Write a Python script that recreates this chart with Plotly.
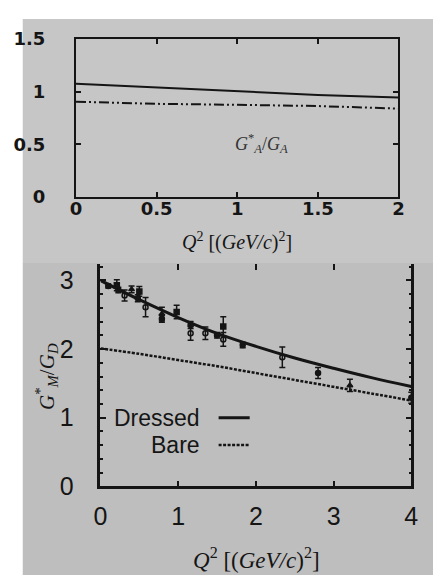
import plotly.graph_objects as go

W, H = 441, 581

# ---------------- data ----------------
# top panel: G_A*/G_A
top_q2 = [0.0, 0.5, 1.0, 1.5, 2.0]
top_solid = [1.076, 1.04, 1.0, 0.97, 0.945]
top_dashdot = [0.905, 0.885, 0.876, 0.864, 0.84]

# bottom panel: G_M*/G_D curves
q2 = [0.0, 0.5, 1.0, 1.5, 2.0, 2.5, 3.0, 3.5, 4.0]
dressed = [3.0, 2.72, 2.46, 2.23, 2.04, 1.87, 1.72, 1.58, 1.455]
bare = [2.01, 1.93, 1.84, 1.75, 1.65, 1.55, 1.45, 1.35, 1.25]

# data points (x, y, error)
fc_x = [0.10, 0.23, 0.48, 0.79, 1.16, 1.50, 1.83, 2.80, 4.00]
fc_y = [2.92, 2.86, 2.74, 2.44, 2.35, 2.20, 2.06, 1.65, 1.29]
fc_e = [0.03, 0.04, 0.05, 0.05, 0.05, 0.04, 0.04, 0.08, 0.08]

oc_x = [0.31, 0.58, 1.16, 1.35, 1.58, 2.34]
oc_y = [2.78, 2.61, 2.23, 2.23, 2.14, 1.88]
oc_e = [0.08, 0.14, 0.10, 0.09, 0.10, 0.15]

sq_x = [0.21, 0.50, 0.98, 1.58]
sq_y = [2.93, 2.84, 2.54, 2.33]
sq_e = [0.08, 0.07, 0.10, 0.14]

tr_x = [0.40, 0.79, 3.21]
tr_y = [2.87, 2.51, 1.47]
tr_e = [0.05, 0.10, 0.09]

top_xticks = [0, 0.5, 1, 1.5, 2]
top_yticks = [0, 0.5, 1, 1.5]
bot_xticks = [0, 1, 2, 3, 4]
bot_yticks = [0, 1, 2, 3]

SANS = "Liberation Sans, Arial, sans-serif"
SERIF = "Liberation Serif, Times New Roman, serif"
INK = "#151515"

def px(x):
    return x / W

def py(y):
    return 1 - y / H

fig = go.Figure()

# top panel traces
fig.add_trace(go.Scatter(x=top_q2, y=top_solid, mode="lines", line=dict(color=INK, width=2),
                         xaxis="x", yaxis="y", showlegend=False))
fig.add_trace(go.Scatter(x=top_q2, y=top_dashdot, mode="lines",
                         line=dict(color=INK, width=2, dash="10px,3px,2px,3px,2px,3px"),
                         xaxis="x", yaxis="y", showlegend=False))

# bottom panel curves
fig.add_trace(go.Scatter(x=q2, y=dressed, mode="lines", line=dict(color=INK, width=3, shape="spline"),
                         xaxis="x2", yaxis="y2", showlegend=False))
fig.add_trace(go.Scatter(x=q2, y=bare, mode="lines", line=dict(color=INK, width=2.5, dash="3px,1.5px", shape="spline"),
                         xaxis="x2", yaxis="y2", showlegend=False))

def pts(x, y, e, symbol):
    return go.Scatter(x=x, y=y, mode="markers", xaxis="x2", yaxis="y2", showlegend=False,
                      marker=dict(symbol=symbol, size=5, color=INK, line=dict(color=INK, width=1.5)),
                      error_y=dict(type="data", array=e, visible=True, color=INK, thickness=1.5, width=3))

fig.add_trace(pts(fc_x, fc_y, fc_e, "circle"))
fig.add_trace(pts(oc_x, oc_y, oc_e, "circle-open"))
fig.add_trace(pts(sq_x, sq_y, sq_e, "square"))
fig.add_trace(pts(tr_x, tr_y, tr_e, "triangle-up"))

shapes = [
    # white strip + grey scan backgrounds
    dict(type="rect", xref="paper", yref="paper", x0=px(8), x1=1, y0=py(255), y1=1,
         fillcolor="#c6c6c6", line=dict(width=0), layer="below"),
    dict(type="rect", xref="paper", yref="paper", x0=px(8), x1=1, y0=0, y1=py(255),
         fillcolor="#bebebe", line=dict(width=0), layer="below"),
    # legend samples
    dict(type="line", xref="x2", yref="y2", x0=1.52, x1=1.92, y0=1.0, y1=1.0,
         line=dict(color=INK, width=3)),
    dict(type="line", xref="x2", yref="y2", x0=1.52, x1=1.92, y0=0.6, y1=0.6,
         line=dict(color=INK, width=2.5, dash="3px,1.5px")),
]

annotations = [
    dict(text="<i>G</i><sup>*</sup><sub><i>A</i></sub>/<i>G</i><sub><i>A</i></sub>",
         x=1.15, y=0.51, xref="x", yref="y", showarrow=False, xanchor="center", yanchor="middle",
         font=dict(family=SERIF, size=18, color="#333")),
    dict(text="<i>Q</i><sup>2</sup> [(<i>GeV/c</i>)<sup>2</sup>]", x=px(229), y=py(233),
         xref="paper", yref="paper", showarrow=False, xanchor="center", yanchor="middle",
         font=dict(family=SERIF, size=20, color=INK)),
    dict(text="<i>Q</i><sup>2</sup> [(<i>GeV/c</i>)<sup>2</sup>]", x=px(249), y=py(564),
         xref="paper", yref="paper", showarrow=False, xanchor="center", yanchor="middle",
         font=dict(family=SERIF, size=23, color=INK)),
    dict(text="<i>G</i><sup>*</sup><sub><i>M</i></sub>/<i>G</i><sub><i>D</i></sub>", x=px(33), y=py(373),
         xref="paper", yref="paper", showarrow=False, textangle=-90, xanchor="center", yanchor="middle",
         font=dict(family=SERIF, size=21, color=INK)),
    dict(text="Dressed", x=1.30, y=1.0, xref="x2", yref="y2", xanchor="right", yanchor="middle",
         showarrow=False, font=dict(family=SANS, size=23, color=INK)),
    dict(text="Bare", x=1.30, y=0.6, xref="x2", yref="y2", xanchor="right", yanchor="middle",
         showarrow=False, font=dict(family=SANS, size=23, color=INK)),
]

common_axis = dict(showline=True, linecolor=INK, ticks="inside", tickcolor=INK, showgrid=False,
                   zeroline=False)

fig.update_layout(
    width=W, height=H, margin=dict(l=0, r=0, t=0, b=0),
    paper_bgcolor="white", plot_bgcolor="rgba(0,0,0,0)",
    shapes=shapes, annotations=annotations,
    xaxis=dict(**common_axis, domain=[px(63), px(396)], range=[0, 2], tickvals=top_xticks,
               mirror="ticks", linewidth=2, ticklen=5, tickwidth=1.5, anchor="y",
               tickfont=dict(family="DejaVu Sans", size=18, color=INK, weight="bold"),
               ticklabelstandoff=-6),
    yaxis=dict(**common_axis, domain=[py(186), py(21)], range=[0, 1.5], tickvals=top_yticks,
               mirror="ticks", linewidth=2, ticklen=5, tickwidth=1.5, anchor="x",
               tickfont=dict(family="DejaVu Sans", size=18, color=INK, weight="bold"),
               ticklabelstandoff=25),
    xaxis2=dict(**common_axis, domain=[px(88.3), px(409.3)], range=[0, 4], tickvals=bot_xticks,
                linewidth=2.5, ticklen=6, tickwidth=1.5, anchor="y2",
                tickfont=dict(family=SANS, size=25, color=INK), ticklabelstandoff=6),
    xaxis3=dict(overlaying="x2", side="top", range=[0, 4], tickvals=bot_xticks, ticks="inside",
                ticklen=6, tickwidth=1.5, tickcolor=INK, showticklabels=False, showline=False,
                showgrid=False, zeroline=False, anchor="y2"),
    yaxis2=dict(**common_axis, domain=[py(488.3), py(256)], range=[0, 3.24], tickvals=bot_yticks,
                mirror="ticks", linewidth=2.5, ticklen=6, tickwidth=1.5, anchor="x2",
                minor=dict(dtick=0.2, ticks="inside", ticklen=3, tickcolor=INK, showgrid=False),
                tickfont=dict(family=SANS, size=25, color=INK), ticklabelstandoff=19),
)

# invisible trace to activate xaxis3
fig.add_trace(go.Scatter(x=[0], y=[0], xaxis="x3", yaxis="y2", mode="markers",
                         marker=dict(opacity=0), showlegend=False, hoverinfo="skip"))

fig.write_html("out.html")
